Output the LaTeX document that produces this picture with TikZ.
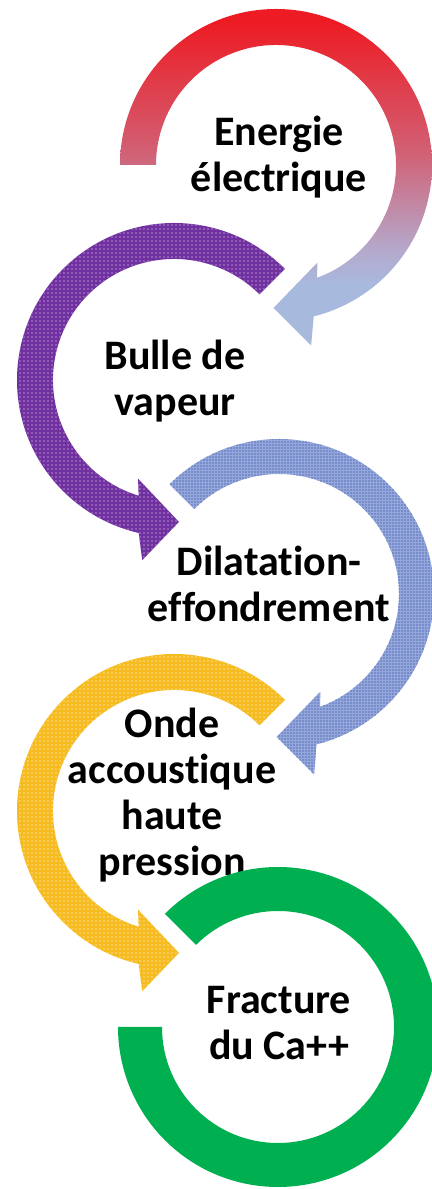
\documentclass[tikz,border=0pt]{standalone}
\usepackage{fontspec}
\setmainfont{Carlito}[Ligatures=NoCommon]
\usetikzlibrary{patterns.meta}

\definecolor{redtop}{RGB}{237,28,36}
\definecolor{rosemid}{RGB}{210,95,115}
\definecolor{lilac}{RGB}{180,170,205}
\definecolor{bluebot}{RGB}{168,185,222}
\definecolor{vapeurcol}{RGB}{112,48,160}
\definecolor{dilatcol}{RGB}{150,168,218}
\definecolor{dilatdots}{RGB}{88,112,190}
\definecolor{ondecol}{RGB}{246,187,30}
\definecolor{fracturecol}{RGB}{0,176,80}

\pgfdeclareverticalshading{elec}{100bp}{color(0bp)=(bluebot); color(34bp)=(bluebot);
  color(39bp)=(lilac); color(54bp)=(rosemid); color(73bp)=(redtop); color(100bp)=(redtop)}

\begin{document}
\begin{tikzpicture}[x=0.5pt,y=0.5pt,
  lbl/.style={font=\bfseries\fontsize{21}{23}\selectfont, align=center, inner sep=0pt}]
  \useasboundingbox (0,0) rectangle (432,1189);
  \clip (0,0) rectangle (432,1189);

  \coordinate (c1) at (276,1024);
  \coordinate (c2) at (174,809);
  \coordinate (c3) at (279,595);
  \coordinate (c4) at (174,378);
  \coordinate (c5) at (278,162);

  % energie -> bulle
  \shade[shading=elec, shift={(c1)}] (180:156) arc[start angle=180, end angle=-76, radius=156]
    -- (-79:184) -- (-91:143) -- (-67:106) -- (-70:120)
    arc[start angle=-70, end angle=180, radius=120] -- cycle;

  % bulle -> dilatation
  \path[fill=vapeurcol, postaction={pattern={Dots[distance=2pt, radius=0.4pt]}, pattern color=vapeurcol!55!white},
    shift={(c2)}] (45:157) arc[start angle=45, end angle=257, radius=157]
    -- (260:183) -- (272:142) -- (250:105) -- (253:121)
    arc[start angle=253, end angle=45, radius=121] -- cycle;

  % dilatation -> onde
  \path[fill=dilatcol, postaction={pattern={Dots[distance=1.5pt, radius=0.4pt]}, pattern color=dilatdots},
    shift={(c3)}] (135:155) arc[start angle=135, end angle=-76, radius=155]
    -- (-79:184) -- (-91:143) -- (-67:106) -- (-70:120)
    arc[start angle=-70, end angle=135, radius=120] -- cycle;

  % onde -> fracture
  \path[fill=ondecol, postaction={pattern={Dots[distance=2pt, radius=0.4pt]}, pattern color=ondecol!50!white},
    shift={(c4)}] (45:157) arc[start angle=45, end angle=257, radius=157]
    -- (260:183) -- (272:142) -- (250:105) -- (253:121)
    arc[start angle=253, end angle=45, radius=121] -- cycle;

  \node[lbl] (energie) at (279,1032) {Energie\\électrique};
  \node[lbl] (bulle) at (175,808) {Bulle de\\vapeur};
  \node[lbl] (dilatation) at (269,605) {Dilatation-\\effondrement};
  \node[lbl] (onde) at (172,394) {Onde\\accoustique\\haute\\pression};

  % fracture
  \fill[fracturecol, shift={(c5)}] (135:160) arc[start angle=135, end angle=-180, radius=160]
    -- (180:116) arc[start angle=-180, end angle=135, radius=116] -- cycle;
  \node[lbl] (fracture) at (279,166) {Fracture\\du Ca++};
\end{tikzpicture}
\end{document}
